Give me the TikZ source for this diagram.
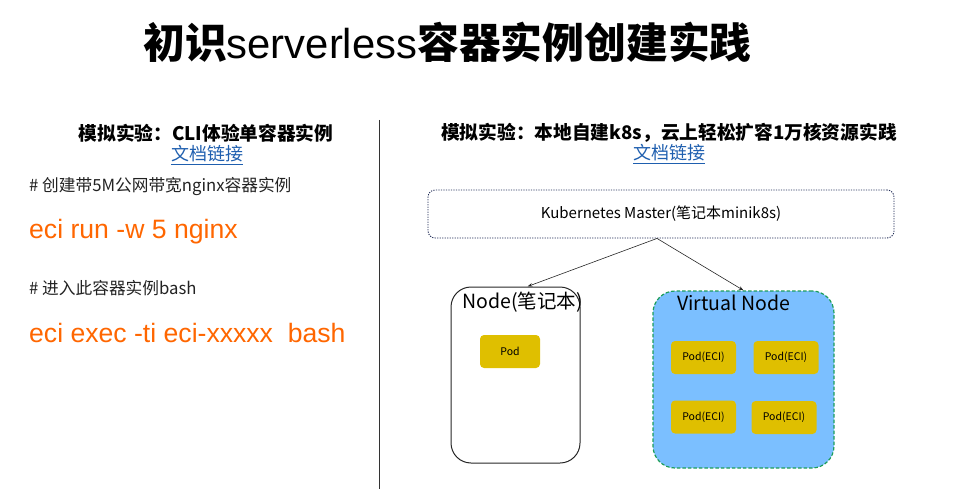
\documentclass[tikz,border=0pt]{standalone}
\usepackage{fontspec}
\usetikzlibrary{arrows.meta}
\newfontfamily\cjk{Noto Sans CJK SC}
\newfontfamily\hel{Liberation Sans}
\definecolor{codeorange}{HTML}{FF6600}
\definecolor{linkblue}{HTML}{1F5FAF}
\definecolor{podyellow}{HTML}{DFBF00}
\definecolor{vblue}{HTML}{7BBFFF}
\definecolor{vgreen}{HTML}{1E9E5A}
\definecolor{navy}{HTML}{1F2A55}
\definecolor{txt}{HTML}{222222}
\newcommand{\fs}[1]{\fontsize{#1}{#1}\selectfont}
\tikzset{
  heading/.style={inner sep=0pt, font=\cjk\bfseries\fs{18.7}, text=black},
  doclink/.style={inner sep=0pt, font=\cjk\fs{18}, text=linkblue},
  comment/.style={inner sep=0pt, anchor=west, font=\cjk\fs{16.7}, text=txt},
  code/.style={inner sep=0pt, anchor=west, font=\hel\fs{26.6}, text=codeorange},
  podbox/.style={fill=podyellow, rounded corners=4pt, minimum height=33pt, inner sep=0pt, font=\cjk\fs{10.5}, text=black},
  conn/.style={draw=black!85, line width=0.6pt, -{Stealth[length=5pt,width=3.5pt]}},
}
\begin{document}
\begin{tikzpicture}[x=1pt,y=-1pt]
\useasboundingbox (0,0) rectangle (957,489);
% title
\node[inner sep=0pt, anchor=west] (title) at (143,42) {\fs{41.8}\cjk\bfseries 初识{\hel\mdseries serverless}容器实例创建实践};
% divider
\draw[black!80, line width=0.8pt] (379,120) -- (379,489);
% left column
\node[heading] (lhead) at (206,133) {模拟实验：CLI体验单容器实例};
\node[doclink] (llink) at (207,155) {\underline{文档链接}};
\node[comment] (c1) at (29,186) {\# 创建带5M公网带宽nginx容器实例};
\node[code] (k1) at (29,232) {eci run -w 5 nginx};
\node[comment] (c2) at (29,288) {\# 进入此容器实例bash};
\node[code] (k2) at (29,333) {eci exec -ti eci-xxxxx\ \ bash};
% right column
\node[heading] (rhead) at (669,133) {模拟实验：本地自建k8s，云上轻松扩容1万核资源实践};
\node[doclink] (rlink) at (669,154) {\underline{文档链接}};
\node[draw=navy, dash pattern=on 1.2pt off 1.3pt, line width=0.9pt, rounded corners=7pt,
      minimum width=466pt, minimum height=48pt, inner sep=0pt, font=\cjk\fs{15}] (master) at (661,214) {Kubernetes Master(笔记本minik8s)};
\node[draw=black!85, line width=1pt, rounded corners=20pt, minimum width=129pt, minimum height=176pt, inner sep=0pt] (node) at (515.5,375) {};
\node[inner sep=0pt, anchor=west, font=\cjk\fs{19.5}] (nodelbl) at (462,302) {Node(笔记本)};
\node[podbox, minimum width=60pt] (pod) at (510,351.5) {Pod};
\node[draw=vgreen, fill=vblue, dash pattern=on 3.5pt off 2pt, line width=1.2pt, rounded corners=22pt, minimum width=181pt, minimum height=177pt, inner sep=0pt] (vnode) at (743.5,379.5) {};
\node[inner sep=0pt, anchor=west, font=\cjk\fs{19.5}] (vlbl) at (677,303) {Virtual Node};
\node[podbox, minimum width=65pt] (e1) at (703.5,357.5) {Pod(ECI)};
\node[podbox, minimum width=65pt] (e2) at (786,357.5) {Pod(ECI)};
\node[podbox, minimum width=65pt] (e3) at (703.5,417) {Pod(ECI)};
\node[podbox, minimum width=65pt] (e4) at (784,417.5) {Pod(ECI)};
% connectors
\coordinate (src) at ([xshift=-4pt]master.south);
\draw[conn] (src) -- ([xshift=12pt]node.north);
\draw[conn] (src) -- (vnode.north);
\end{tikzpicture}
\end{document}
